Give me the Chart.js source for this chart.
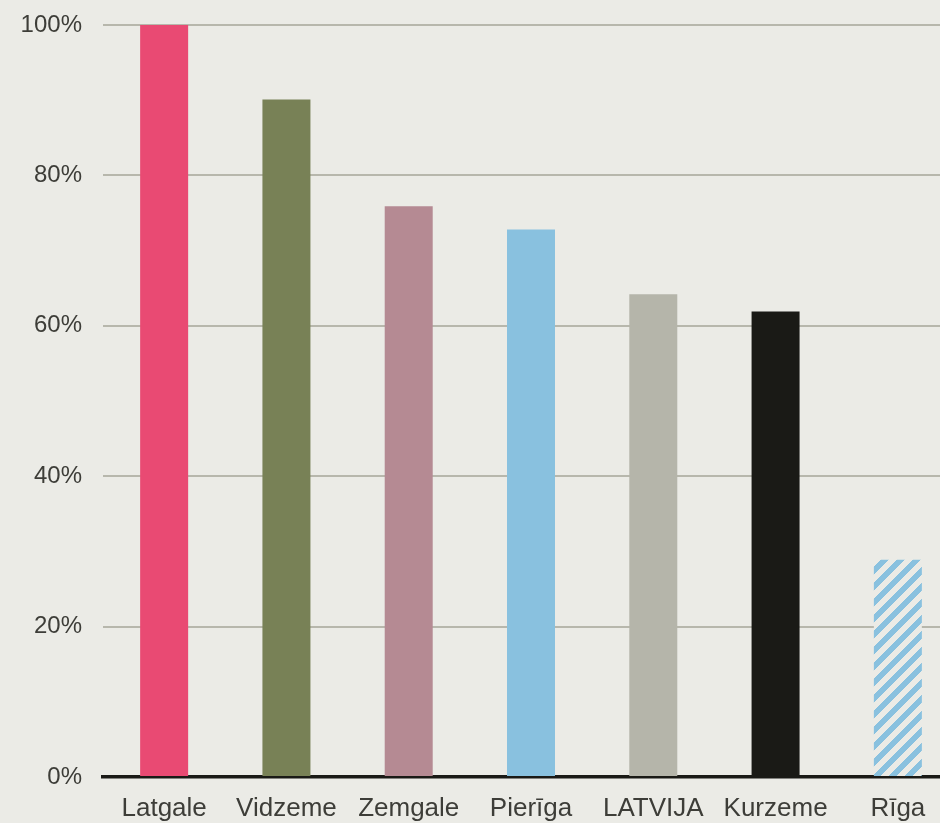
<!DOCTYPE html>
<html>
<head>
<meta charset="utf-8">
<script src="https://cdn.jsdelivr.net/npm/chart.js@4/dist/chart.umd.min.js"></script>
<style>
  html, body { margin: 0; padding: 0; background: #ebebe6; width: 940px; height: 823px; overflow: hidden; }
  canvas { display: block; }
</style>
</head>
<body>
<canvas id="c" width="960" height="823"></canvas>
<script>
const categories = ["Latgale", "Vidzeme", "Zemgale", "Pierīga", "LATVIJA", "Kurzeme", "Rīga"];
const values = [100, 90.1, 75.9, 72.8, 64.2, 61.9, 28.9];
const yTicks = [0, 20, 40, 60, 80, 100];

const solidColors = ["#e94a73", "#788156", "#b58a93", "#89c1df", "#b5b5aa", "#1a1a16"];

function makeHatch() {
  const p = 16;
  const c = document.createElement('canvas');
  c.width = p; c.height = p;
  const g = c.getContext('2d');
  const img = g.createImageData(p, p);
  for (let y = 0; y < p; y++) {
    for (let x = 0; x < p; x++) {
      const i = (y * p + x) * 4;
      if (((x + y) % p) < 8) {
        img.data[i] = 0x89; img.data[i+1] = 0xc1; img.data[i+2] = 0xdf;
      } else {
        img.data[i] = 0xeb; img.data[i+1] = 0xeb; img.data[i+2] = 0xe6;
      }
      img.data[i+3] = 255;
    }
  }
  g.putImageData(img, 0, 0);
  return document.getElementById('c').getContext('2d').createPattern(c, 'repeat');
}
const hatch = makeHatch();
const barColors = solidColors.concat([hatch]);

const textColor = "#3d3d38";
const fontFamily = "'Liberation Sans', Arial, sans-serif";

new Chart(document.getElementById('c'), {
  type: 'bar',
  data: {
    labels: categories,
    datasets: [{
      data: values,
      backgroundColor: barColors,
      borderWidth: 0,
      barPercentage: 0.3925,
      categoryPercentage: 1.0
    }]
  },
  options: {
    responsive: false,
    animation: false,
    devicePixelRatio: 1,
    layout: { padding: { top: 0, right: 1, left: 0, bottom: 0 } },
    plugins: { legend: { display: false }, tooltip: { enabled: false } },
    scales: {
      x: {
        z: 1,
        grid: { display: false, drawTicks: false },
        border: { display: true, color: "#1a1a16", width: 3.5 },
        ticks: {
          color: textColor,
          font: { family: fontFamily, size: 26 },
          padding: 16,
          maxRotation: 0,
          autoSkip: false
        },
        afterFit(scale) { scale.height = 46; }
      },
      y: {
        min: 0, max: 100,
        afterBuildTicks(scale) { scale.ticks = yTicks.map(v => ({ value: v })); },
        grid: {
          color: (ctx) => ctx.tick && ctx.tick.value === 0 ? 'rgba(0,0,0,0)' : '#b7b7ac',
          lineWidth: 2,
          drawTicks: false
        },
        border: { display: false },
        ticks: {
          color: textColor,
          font: { family: fontFamily, size: 24, lineHeight: 8 / 24 },
          padding: 21,
          callback: (v) => v + '%'
        },
        afterFit(scale) { scale.width = 103; }
      }
    }
  }
});
</script>
</body>
</html>
